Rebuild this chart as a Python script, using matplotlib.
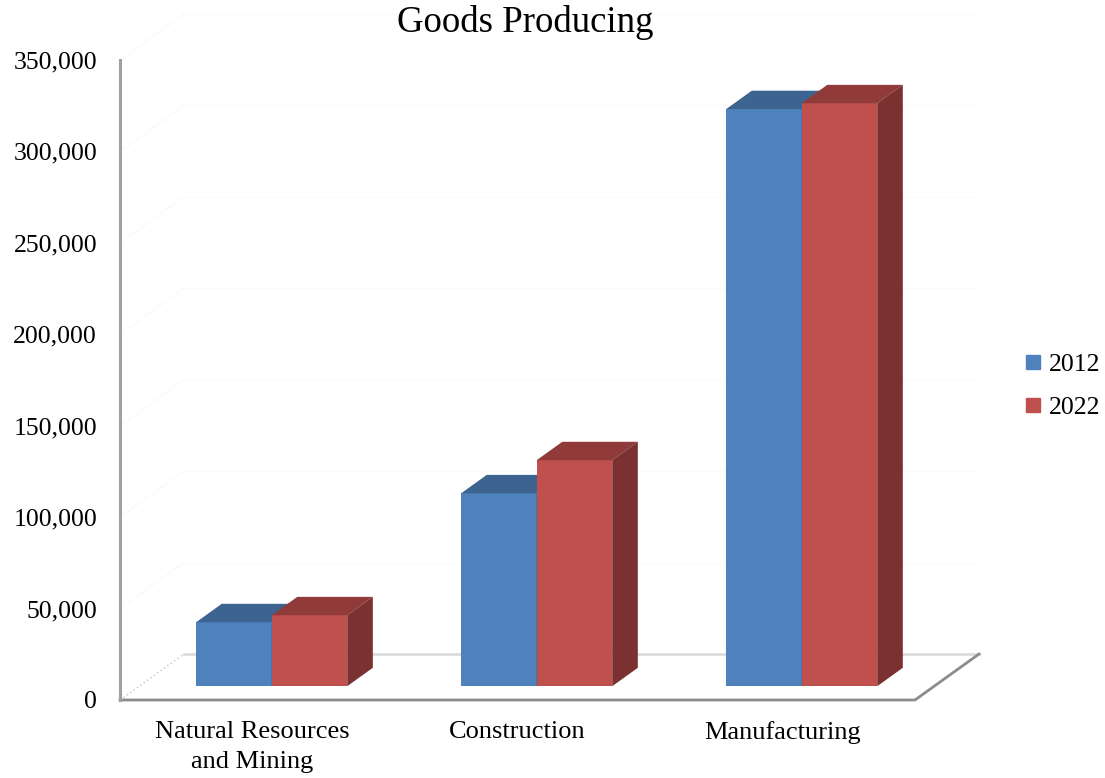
import matplotlib.pyplot as plt
from matplotlib.patches import Polygon
from matplotlib.lines import Line2D
import numpy as np

categories = ["Natural Resources\nand Mining", "Construction", "Manufacturing"]
years = ["2012", "2022"]
jobs_2012 = [35000, 105500, 315600]
jobs_2022 = [38800, 123600, 318800]
yticks = [0, 50000, 100000, 150000, 200000, 250000, 300000, 350000]

front_colors = ["#4F81BD", "#C0504D"]
top_colors = ["#3D6491", "#903B39"]
side_colors = ["#355984", "#7B3130"]

plt.rcParams['font.family'] = ['Liberation Serif', 'DejaVu Serif']

fig = plt.figure(figsize=(11.05, 7.78), dpi=100)
ax = fig.add_axes([120 / 1105, 78 / 778, 795 / 1105, 640 / 778])
ax.set_xlim(-0.5, 2.5)
ax.set_ylim(0, 350000)

# oblique depth of the 3d floor, pixels -> data units
px_x = 795 / 3
px_y = 640 / 350000
depth_px = (64, 46)
ddx = depth_px[0] / px_x
ddy = depth_px[1] / px_y

def dep(f):
    return f * ddx, f * ddy

# walls: faint gridlines on side wall and back wall
for t in yticks[1:]:
    ax.plot([-0.5, -0.5 + ddx], [t, t + ddy], color="#ededed", lw=0.8, ls=(0, (1, 2)), clip_on=False, zorder=1)
    ax.plot([-0.5 + ddx, 2.5 + ddx], [t + ddy, t + ddy], color="#fbfbfb", lw=0.8, clip_on=False, zorder=1)

# floor
ax.plot([-0.5, -0.5 + ddx], [0, ddy], color="#c4c4c4", lw=1, ls=(0, (1, 2)), clip_on=False, zorder=1)
ax.plot([-0.5 + ddx, 2.5 + ddx], [ddy, ddy], color="#dcdcdc", lw=2, clip_on=False, zorder=1)
ax.plot([-0.5, 2.5, 2.5 + ddx], [0, 0, ddy], color="#8c8c8c", lw=2, clip_on=False, zorder=2,
        solid_joinstyle="miter")
ax.plot([-0.5, -0.5], [0, 350000], color="#a0a0a0", lw=2.2, clip_on=False, zorder=2)

# bars
w = 0.285
fx, fy = dep(0.3)
bx, by = dep(0.4)
x = np.arange(len(categories))
for i, vals in enumerate([jobs_2012, jobs_2022]):
    lefts = x - w + i * w
    for left, v in zip(lefts, vals):
        x0, x1 = left + fx, left + w + fx
        y0, y1 = fy, v + fy
        ax.add_patch(Polygon([(x0, y0), (x1, y0), (x1, y1), (x0, y1)], closed=True,
                             facecolor=front_colors[i], edgecolor="none", clip_on=False, zorder=3))
        ax.add_patch(Polygon([(x0, y1), (x1, y1), (x1 + bx, y1 + by), (x0 + bx, y1 + by)], closed=True,
                             facecolor=top_colors[i], edgecolor="none", clip_on=False, zorder=3))
        ax.add_patch(Polygon([(x1, y0), (x1 + bx, y0 + by), (x1 + bx, y1 + by), (x1, y1)], closed=True,
                             facecolor=side_colors[i], edgecolor="none", clip_on=False, zorder=3))

for s in ax.spines.values():
    s.set_visible(False)
ax.set_yticks(yticks)
ax.set_yticklabels([f"{t:,}" for t in yticks])
ax.tick_params(axis="y", length=0, pad=16.5, labelsize=18.5)
ax.set_xticks(x)
ax.set_xticklabels(categories, linespacing=1.5)
ax.tick_params(axis="x", length=0, pad=15, labelsize=19)

fig.text(525 / 1105, 1 - 23 / 778, "Goods Producing", ha="center", va="center", fontsize=26.5)

handles = [Line2D([], [], marker="s", ls="none", markersize=9.5, color=c) for c in front_colors]
fig.legend(handles, years, loc="center left", bbox_to_anchor=(1024 / 1105, 1 - 386 / 778),
           frameon=False, fontsize=18.5, handlelength=0.7, handletextpad=0.25, labelspacing=0.75,
           borderaxespad=0, borderpad=0)

fig.savefig("out.png", dpi=100)
